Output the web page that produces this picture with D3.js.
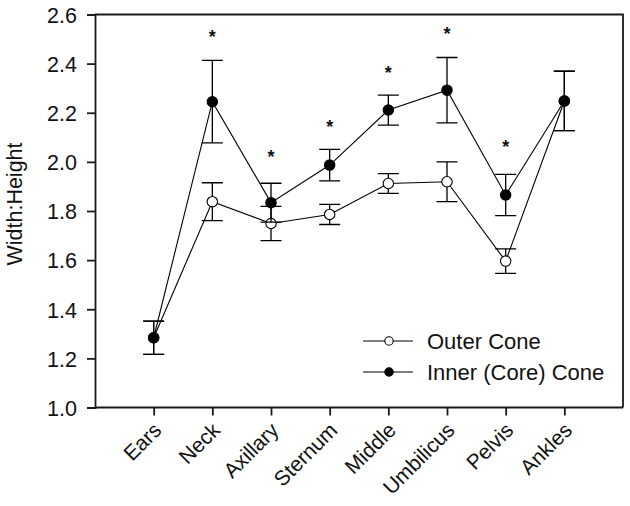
<!DOCTYPE html>
<html>
<head>
<meta charset="utf-8">
<script src="https://cdn.jsdelivr.net/npm/d3@7/dist/d3.min.js"></script>
<style>
  html, body { margin: 0; padding: 0; background: #fff; }
  svg { display: block; }
  text { font-family: "Liberation Sans", Arial, sans-serif; fill: #111; }
</style>
</head>
<body>
<svg id="chart" width="630" height="506"></svg>
<script>
// ---- data ----
const categories = ["Ears", "Neck", "Axillary", "Sternum", "Middle", "Umbilicus", "Pelvis", "Ankles"];
const outerValues = [1.284, 1.838, 1.749, 1.786, 1.912, 1.919, 1.596, 2.248];
const outerErrors = [0.068, 0.077, 0.07, 0.041, 0.04, 0.081, 0.05, 0.121];
const innerValues = [1.284, 2.245, 1.834, 1.987, 2.211, 2.292, 1.865, 2.248];
const innerErrors = [0.068, 0.168, 0.079, 0.064, 0.061, 0.133, 0.084, 0.121];
const starCategories = ["Neck", "Axillary", "Sternum", "Middle", "Umbilicus", "Pelvis"];
const starValues = [2.523, 2.035, 2.160, 2.378, 2.537, 2.078];
const yTicks = [1.0, 1.2, 1.4, 1.6, 1.8, 2.0, 2.2, 2.4, 2.6];
const seriesNames = ["Outer Cone", "Inner (Core) Cone"];
const yTitle = "Width:Height";

// ---- layout ----
const svg = d3.select("#chart");
const L = 95, R = 623, T = 14.5, B = 407.5;
const axisColor = "#1a1a1a";
const axisW = 1.8;

const x = d3.scalePoint().domain(categories).range([L, R]).padding(1);
const y = d3.scaleLinear().domain([1.0, 2.6]).range([B, T]);

// frame (top and right)
svg.append("path")
  .attr("d", `M${L},${T}H${R}V${B}`)
  .attr("fill", "none").attr("stroke", axisColor).attr("stroke-width", axisW);

// y axis
const yAxis = svg.append("g").attr("transform", `translate(${L},0)`)
  .call(d3.axisLeft(y).tickValues(yTicks).tickFormat(d3.format(".1f")).tickSize(8).tickPadding(10));
yAxis.select(".domain").attr("stroke", axisColor).attr("stroke-width", axisW);
yAxis.selectAll(".tick line").attr("stroke", axisColor).attr("stroke-width", axisW);
yAxis.selectAll(".tick text")
  .attr("font-size", 21.5).attr("fill", "#111")
  .attr("font-family", "Liberation Sans, Arial, sans-serif")
  .attr("dy", "0.36em");

// x axis
const xAxis = svg.append("g").attr("transform", `translate(0,${B})`)
  .call(d3.axisBottom(x).tickSize(8).tickSizeOuter(0).tickFormat(""));
xAxis.select(".domain").attr("stroke", axisColor).attr("stroke-width", axisW)
  .attr("d", `M${L},0H${R}`);
xAxis.selectAll(".tick line").attr("stroke", axisColor).attr("stroke-width", axisW);

// rotated category labels
svg.append("g").selectAll("text").data(categories).join("text")
  .attr("transform", d => `translate(${x(d) + 9},${B + 24}) rotate(-45)`)
  .attr("text-anchor", "end")
  .attr("font-size", 21)
  .text(d => d);

// y title
svg.append("text")
  .attr("transform", `translate(22,204) rotate(-90)`)
  .attr("text-anchor", "middle")
  .attr("font-size", 21.5)
  .text(yTitle);

// ---- series ----
function drawSeries(values, errors, filled) {
  const g = svg.append("g");
  const pts = categories.map((c, i) => ({c, v: values[i], e: errors[i]}));
  g.append("path")
    .datum(pts)
    .attr("fill", "none").attr("stroke", "#000").attr("stroke-width", 1.1)
    .attr("d", d3.line().x(d => x(d.c)).y(d => y(d.v)));
  const eb = g.append("g").attr("stroke", "#000").attr("stroke-width", 1.3).attr("fill", "none");
  const cap = 10.5;
  pts.forEach(d => {
    const cx = x(d.c), y1 = y(d.v + d.e), y2 = y(d.v - d.e);
    eb.append("path").attr("d", `M${cx},${y1}V${y2}M${cx - cap},${y1}H${cx + cap}M${cx - cap},${y2}H${cx + cap}`);
  });
  g.append("g").selectAll("circle").data(pts).join("circle")
    .attr("cx", d => x(d.c)).attr("cy", d => y(d.v)).attr("r", 5.2)
    .attr("fill", filled ? "#000" : "#fff")
    .attr("stroke", "#000").attr("stroke-width", 1.1);
}
drawSeries(outerValues, outerErrors, false);
drawSeries(innerValues, innerErrors, true);

// significance stars
svg.append("g").selectAll("text").data(starCategories).join("text")
  .attr("x", d => x(d))
  .attr("y", (d, i) => y(starValues[i]) + 10)
  .attr("text-anchor", "middle")
  .attr("font-size", 18)
  .attr("font-weight", "bold")
  .text("*");

// legend
const legend = svg.append("g");
const legY = [341, 372];
seriesNames.forEach((name, i) => {
  legend.append("line")
    .attr("x1", 363).attr("x2", 413).attr("y1", legY[i]).attr("y2", legY[i])
    .attr("stroke", "#000").attr("stroke-width", 1.1);
  legend.append("circle")
    .attr("cx", 389).attr("cy", legY[i]).attr("r", 4.2)
    .attr("fill", i === 0 ? "#fff" : "#000")
    .attr("stroke", "#000").attr("stroke-width", 1.1);
  legend.append("text")
    .attr("x", 427).attr("y", legY[i]).attr("dy", "0.36em")
    .attr("font-size", 22)
    .text(name);
});
</script>
</body>
</html>
